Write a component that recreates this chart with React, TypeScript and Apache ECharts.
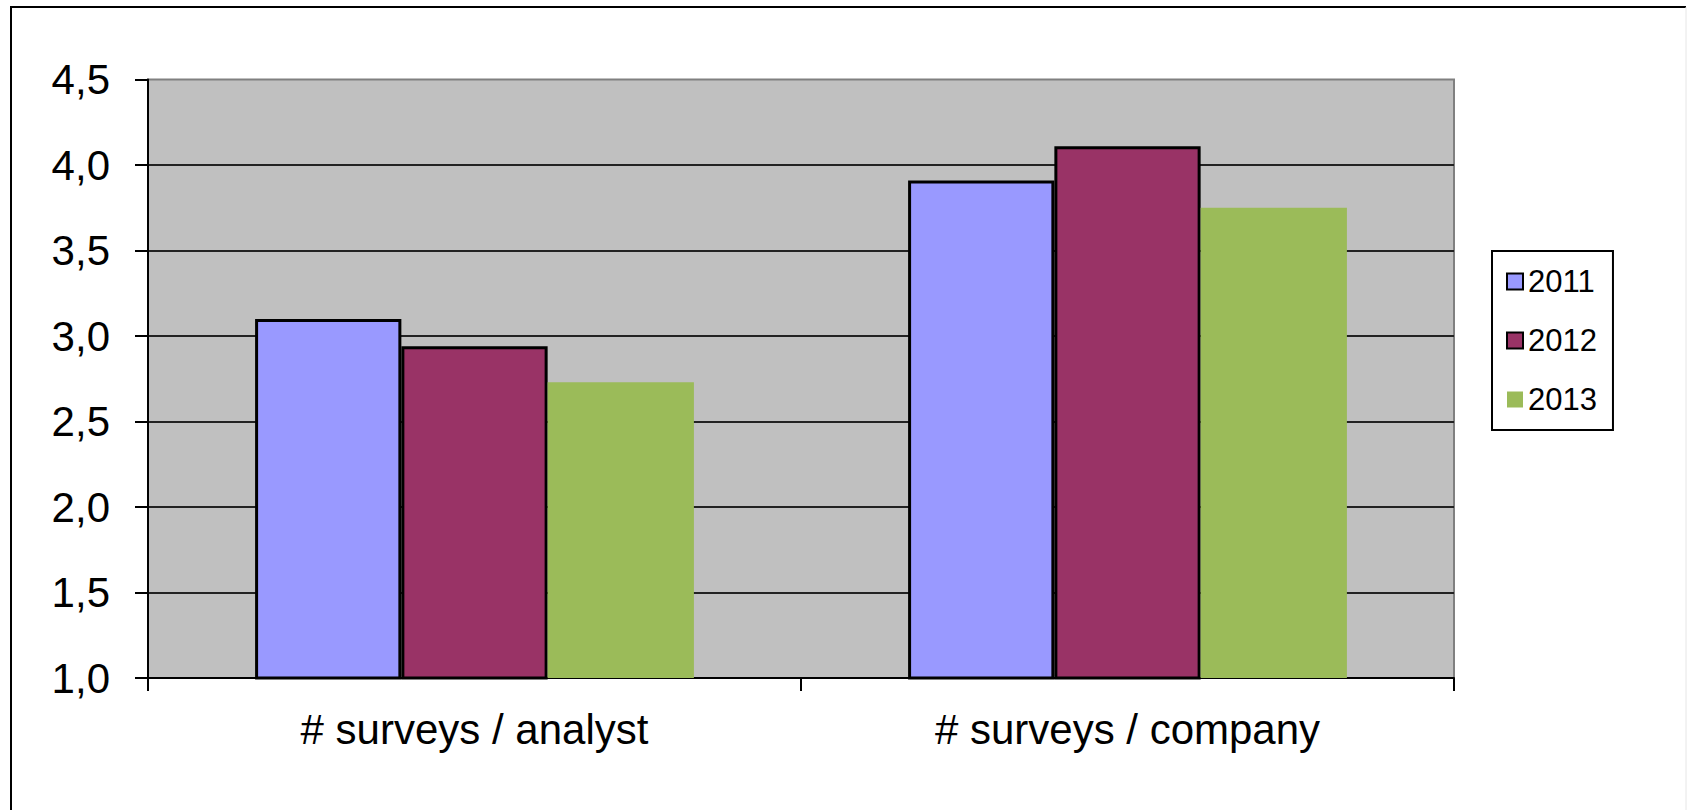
import React, { useEffect, useRef } from "react";
import * as echarts from "echarts";

const categories = ["# surveys / analyst", "# surveys / company"];
const years = ["2011", "2012", "2013"];
const values2011 = [3.1, 3.91];
const values2012 = [2.94, 4.11];
const values2013 = [2.73, 3.75];
const yTicks = { min: 1, max: 4.5, interval: 0.5 };

const colors = ["#9999FF", "#993366", "#9BBB59"];
const borders = [3, 3, 0];

export default function App() {
  const ref = useRef<HTMLDivElement>(null);
  useEffect(() => {
    if (!ref.current) return;
    const chart = echarts.init(ref.current, null, { renderer: "svg" });
    const seriesValues = [values2011, values2012, values2013];
    const font = "'Liberation Sans', Arial, sans-serif";
    chart.setOption({
      animation: false,
      backgroundColor: "#ffffff",
      textStyle: { fontFamily: font, color: "#000" },
      grid: {
        left: 148,
        top: 79.5,
        width: 1306,
        height: 598.5,
        show: true,
        backgroundColor: "#C0C0C0",
        borderColor: "#808080",
        borderWidth: 2,
        containLabel: false,
      },
      legend: {
        orient: "vertical",
        left: 1492,
        top: 251,
        data: years,
        icon: "rect",
        itemWidth: 16,
        itemHeight: 16,
        itemGap: 28,
        padding: [15, 16, 15, 14],
        borderColor: "#000",
        borderWidth: 2,
        backgroundColor: "#fff",
        textStyle: { fontFamily: font, fontSize: 31, color: "#000" },
      },
      xAxis: {
        type: "category",
        data: categories,
        boundaryGap: true,
        axisLine: { show: true, lineStyle: { color: "#000", width: 2 } },
        axisTick: { show: true, length: 13, lineStyle: { color: "#000", width: 2 } },
        axisLabel: { fontFamily: font, fontSize: 42, color: "#000", margin: 30 },
        splitLine: { show: false },
      },
      yAxis: {
        type: "value",
        min: yTicks.min,
        max: yTicks.max,
        interval: yTicks.interval,
        axisLine: { show: true, lineStyle: { color: "#000", width: 2 } },
        axisTick: { show: true, length: 13, lineStyle: { color: "#000", width: 2 } },
        axisLabel: {
          fontFamily: font,
          fontSize: 42,
          color: "#000",
          margin: 38,
          formatter: (v: number) => v.toFixed(1).replace(".", ","),
        },
        splitLine: {
          show: true,
          showMinLine: false,
          showMaxLine: false,
          lineStyle: { color: "#222", width: 2 },
        },
      },
      series: years.map((y, i) => ({
        name: y,
        type: "bar",
        data: seriesValues[i],
        barWidth: "22.4%",
        barGap: "0%",
        itemStyle: {
          color: colors[i],
          borderColor: "#000",
          borderWidth: borders[i],
        },
      })),
      graphic: [
        {
          type: "line",
          shape: { x1: 10, y1: 7, x2: 1686, y2: 7 },
          style: { stroke: "#000", lineWidth: 2 },
        },
        {
          type: "line",
          shape: { x1: 11, y1: 7, x2: 11, y2: 810 },
          style: { stroke: "#000", lineWidth: 2 },
        },
        {
          type: "line",
          shape: { x1: 1686, y1: 7, x2: 1686, y2: 810 },
          style: { stroke: "#e6e6e6", lineWidth: 1 },
        },
      ],
    });
    return () => chart.dispose();
  }, []);
  return (
    <div
      ref={ref}
      style={{ position: "absolute", left: 0, top: 0, width: 1687, height: 810 }}
    />
  );
}
